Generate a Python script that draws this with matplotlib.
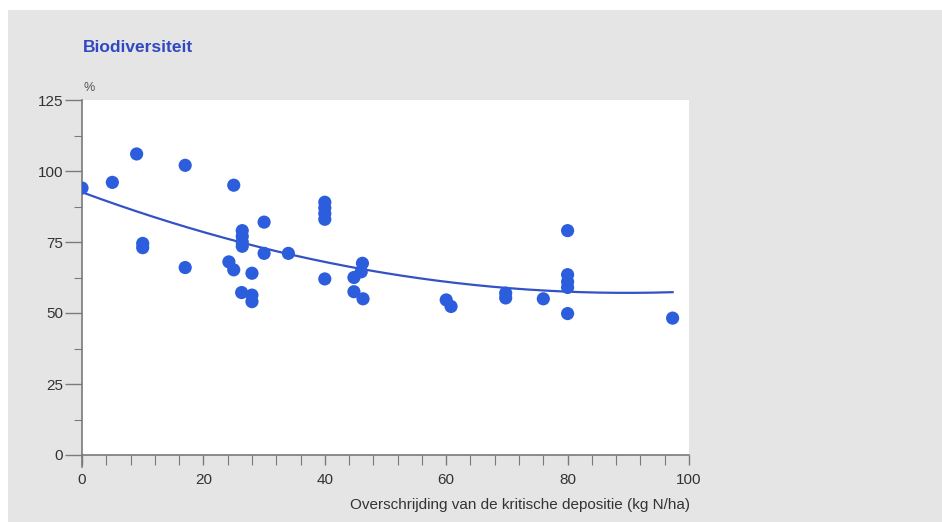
import numpy as np
import matplotlib
matplotlib.use("Agg")
import matplotlib.pyplot as plt
from matplotlib.lines import Line2D
from matplotlib.patches import Rectangle
from matplotlib.ticker import MultipleLocator

# Overschrijding (kg N/ha) en biodiversiteit (%) per meetpunt
overschrijding = [
	0, 5, 9, 10, 10, 17, 17, 25, 24.2, 25,
	26.4, 26.4, 26.4, 26.4, 26.3, 28, 28, 28, 30, 30,
	34, 40, 40, 40, 40, 40, 46.2, 46, 44.8, 44.8,
	46.3, 60, 60.8, 69.8, 69.8, 76, 80, 80, 80, 80,
	80, 97.3,
]
biodiversiteit = [
	94, 96, 106, 74.5, 73, 102, 66, 95, 68, 65.2,
	79, 77, 75, 73.5, 57.2, 64, 56.3, 54, 82, 71,
	71, 89, 87, 85, 83, 62, 67.5, 64.5, 62.5, 57.5,
	55, 54.6, 52.3, 57, 55.3, 55, 79, 63.5, 61, 59,
	49.8, 48.2,
]

x_ticks = [0, 20, 40, 60, 80, 100]
y_ticks = [0, 25, 50, 75, 100, 125]

blauw = "#2b5ddc"
lijn_blauw = "#3452c6"
as_grijs = "#7a7a7a"
tekst_grijs = "#333333"

plt.rcParams["font.family"] = ["Liberation Sans", "DejaVu Sans"]

fig = plt.figure(figsize=(9.42, 5.22), dpi=100)
fig.patch.set_facecolor("white")
# grijs paneel achter de grafiek
fig.patches.append(Rectangle((8 / 942, 0), 1, 1 - 10 / 522, transform=fig.transFigure,
	facecolor="#e5e5e5", edgecolor="none", zorder=-10))

ax = fig.add_axes([82 / 942, 67 / 522, 607 / 942, 355 / 522])
ax.set_facecolor("white")

x = np.array(overschrijding)
y = np.array(biodiversiteit)
ax.scatter(x, y, s=90, color=blauw, edgecolors="none", zorder=3)

# kwadratische trendlijn over het bereik van de metingen
coef = np.polyfit(x, y, 2)
xs = np.linspace(x.min(), x.max(), 200)
ax.plot(xs, np.polyval(coef, xs), color=lijn_blauw, lw=1.6, zorder=2)

ax.set_xlim(0, 100)
ax.set_ylim(0, 125)
ax.set_xticks(x_ticks)
ax.set_yticks(y_ticks)
ax.xaxis.set_minor_locator(MultipleLocator(4))
ax.yaxis.set_minor_locator(MultipleLocator(12.5))

for side in ["top", "right"]:
	ax.spines[side].set_visible(False)
for side in ["left", "bottom"]:
	ax.spines[side].set_color(as_grijs)
	ax.spines[side].set_linewidth(1.2)

# y-as loopt een stukje door onder de x-as
ax.add_line(Line2D([0, 0], [0, -12 / 355], transform=ax.transAxes, color=as_grijs,
	lw=1.2, clip_on=False))

ax.tick_params(axis="x", which="major", length=7, width=1, color=as_grijs, labelsize=11,
	labelcolor=tekst_grijs, pad=6)
ax.tick_params(axis="x", which="minor", length=7, width=0.8, color=as_grijs)
ax.tick_params(axis="y", which="major", length=12, width=1, color=as_grijs, labelsize=11,
	labelcolor=tekst_grijs, pad=1.5)
ax.tick_params(axis="y", which="minor", length=6, width=0.8, color=as_grijs)

fig.text(690 / 942, 1 - 505 / 522, "Overschrijding van de kritische depositie (kg N/ha)",
	ha="right", va="center", fontsize=11, color=tekst_grijs)
fig.text(83 / 942, 1 - 88 / 522, "%", ha="left", va="center", fontsize=9, color="#555555")
fig.text(83 / 942, 1 - 48 / 522, "Biodiversiteit", ha="left", va="center", fontsize=12.5,
	fontweight="bold", color="#3048c2")

fig.savefig("out.png", dpi=100)
